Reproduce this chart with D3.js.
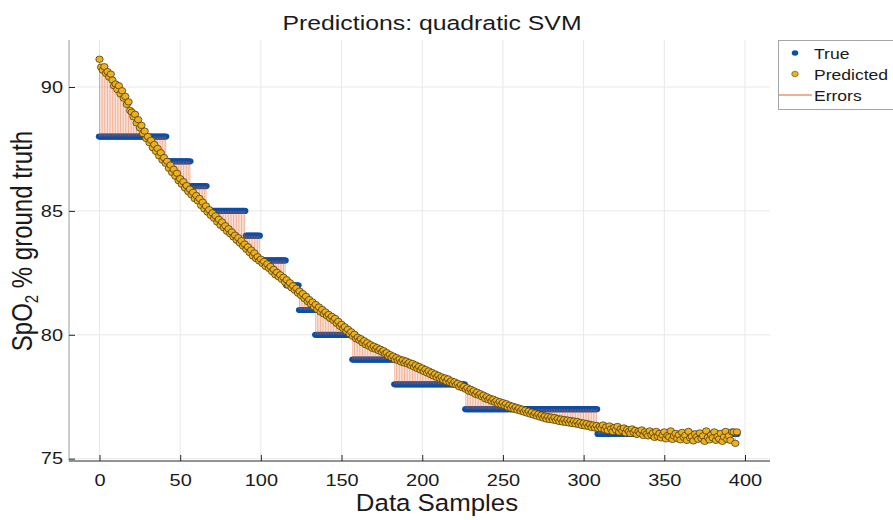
<!DOCTYPE html>
<html><head><meta charset="utf-8">
<script src="https://cdn.jsdelivr.net/npm/d3@7"></script>
<style>
body{margin:0;background:#fff}
svg{display:block}
text{font-family:"Liberation Sans",Arial,Helvetica,sans-serif;fill:#1a1a1a}
</style>
</head><body>
<svg id="chart" width="893" height="520"></svg>
<script>
// ---- data ----
const trueLevels = [88, 87, 86, 85, 84, 83, 82, 81, 80, 79, 78, 77, 76];
const trueRunLengths = [42, 15, 10, 24, 9, 16, 8, 10, 23, 26, 44, 82, 87];
const predicted = [
91.12,90.80,90.68,90.82,90.55,90.62,90.40,90.52,90.28,90.05,
90.12,89.90,90.05,89.72,89.85,89.55,89.62,89.30,89.40,89.05,
88.98,88.80,88.90,88.55,88.68,88.35,88.45,88.12,88.22,87.92,
88.00,87.75,87.85,87.55,87.68,87.40,87.52,87.22,87.35,87.05,
87.15,86.92,87.00,86.72,86.85,86.55,86.68,86.40,86.52,86.22,
86.30,86.08,86.18,85.92,86.02,85.78,85.88,85.65,85.75,85.50,
85.62,85.40,85.50,85.22,85.35,85.08,85.20,84.95,85.05,84.82,
84.92,84.70,84.80,84.55,84.66,84.42,84.55,84.32,84.40,84.18,
84.28,84.08,84.15,83.95,84.02,83.82,83.92,83.70,83.80,83.58,
83.66,83.45,83.55,83.32,83.42,83.18,83.30,83.08,83.15,82.98,
83.05,82.88,82.96,82.76,82.86,82.68,82.76,82.55,82.64,82.42,
82.52,82.34,82.42,82.24,82.32,82.12,82.22,82.00,82.10,81.90,
81.98,81.80,81.88,81.68,81.76,81.58,81.66,81.46,81.55,81.34,
81.42,81.24,81.32,81.12,81.22,81.02,81.12,80.92,81.02,80.84,
80.92,80.76,80.82,80.66,80.74,80.58,80.66,80.46,80.54,80.34,
80.42,80.26,80.32,80.14,80.22,80.04,80.12,79.94,80.02,79.84,
79.90,79.78,79.84,79.68,79.76,79.60,79.68,79.54,79.60,79.46,
79.54,79.42,79.48,79.36,79.42,79.30,79.36,79.24,79.28,79.14,
79.20,79.08,79.14,79.00,79.08,78.96,79.02,78.90,78.98,78.86,
78.94,78.82,78.88,78.76,78.84,78.70,78.78,78.64,78.72,78.58,
78.66,78.52,78.60,78.46,78.54,78.40,78.48,78.34,78.42,78.28,
78.36,78.24,78.30,78.18,78.26,78.12,78.22,78.08,78.14,78.02,
78.10,77.98,78.04,77.90,77.98,77.86,77.92,77.80,77.86,77.72,
77.80,77.68,77.74,77.60,77.68,77.56,77.62,77.50,77.56,77.42,
77.50,77.38,77.44,77.32,77.40,77.28,77.34,77.22,77.30,77.18,
77.26,77.14,77.22,77.08,77.16,77.04,77.12,77.00,77.08,76.96,
77.04,76.92,77.00,76.88,76.96,76.84,76.92,76.80,76.88,76.76,
76.84,76.72,76.80,76.68,76.76,76.64,76.72,76.60,76.70,76.58,
76.68,76.56,76.66,76.54,76.62,76.50,76.60,76.48,76.58,76.46,
76.56,76.44,76.54,76.42,76.52,76.40,76.50,76.38,76.46,76.34,
76.44,76.32,76.42,76.30,76.38,76.26,76.36,76.24,76.34,76.22,
76.30,76.22,76.36,76.18,76.28,76.14,76.32,76.20,76.10,76.26,
76.16,76.30,76.08,76.20,76.12,76.24,76.04,76.18,76.10,76.02,
76.20,76.06,76.14,75.98,76.10,76.02,76.16,75.94,76.08,76.00,
75.92,76.12,75.96,76.04,75.86,76.10,75.90,76.02,75.84,75.96,
76.08,75.80,75.94,75.88,76.12,75.78,75.92,76.02,75.82,75.96,
75.76,76.06,75.86,75.94,75.74,76.10,75.84,75.90,75.72,76.00,
75.88,75.78,76.04,75.82,75.92,75.70,76.12,75.86,75.76,75.96,
75.84,76.08,75.74,75.90,75.80,76.02,75.70,75.88,76.10,75.78,
75.92,75.74,76.08,76.08,75.62,76.08
];
const xTicks = [0, 50, 100, 150, 200, 250, 300, 350, 400];
const yTicks = [75, 80, 85, 90];
const legendLabels = ["True", "Predicted", "Errors"];

// expand true step table into one value per sample
const trueValues = [];
trueLevels.forEach((lv, i) => { for (let k = 0; k < trueRunLengths[i]; k++) trueValues.push(lv); });
const samples = predicted.map((p, i) => ({i, p, t: trueValues[i]}));

// ---- layout ----
const SX = 1.21; // horizontal stretch of the reference rendering
const svg = d3.select("#chart");
const L = 69, R = 770, T = 40, B = 461;
const x = d3.scaleLinear().domain([-18.9, 415.5]).range([L, R]);
const y = d3.scaleLinear().domain([74.907, 91.897]).range([B, T]);

const COL_TRUE = "#0d4ea6", COL_PRED = "#edb120", COL_ERR = "#e0602c", COL_EDGE = "#3a2d0e";

// grid
const g = svg.append("g");
g.selectAll("line.vg").data(xTicks).join("line")
  .attr("x1", d => x(d)).attr("x2", d => x(d)).attr("y1", T).attr("y2", B)
  .attr("stroke", "#e8e8e8").attr("stroke-width", 1);
g.selectAll("line.hg").data(yTicks).join("line")
  .attr("x1", L).attr("x2", R).attr("y1", d => y(d)).attr("y2", d => y(d))
  .attr("stroke", "#e8e8e8").attr("stroke-width", 1);

// true markers
svg.append("g").selectAll("ellipse").data(samples).join("ellipse")
  .attr("cx", d => x(d.i)).attr("cy", d => y(d.t)).attr("rx", 3.7).attr("ry", 3.1)
  .attr("fill", COL_TRUE);

// error lines
svg.append("g").selectAll("line").data(samples).join("line")
  .attr("x1", d => x(d.i)).attr("x2", d => x(d.i))
  .attr("y1", d => y(d.t)).attr("y2", d => y(d.p))
  .attr("stroke", COL_ERR).attr("stroke-width", 0.7).attr("stroke-opacity", 0.7);

// predicted markers
svg.append("g").selectAll("ellipse").data(samples).join("ellipse")
  .attr("cx", d => x(d.i)).attr("cy", d => y(d.p)).attr("rx", 3.7).attr("ry", 3.2)
  .attr("fill", COL_PRED).attr("stroke", COL_EDGE).attr("stroke-width", 0.7);

// axes
const xAxis = d3.axisBottom(x).tickValues(xTicks).tickSize(-6).tickPadding(13);
const xg = svg.append("g").attr("transform", `translate(0,${B})`).call(xAxis);
xg.select(".domain").attr("stroke", "#262626").attr("d", `M${L},0H${R}`);
xg.selectAll(".tick line").attr("stroke", "#262626");
xg.selectAll(".tick text").attr("font-size", 16.5).attr("fill", "#1a1a1a")
  .attr("transform", `scale(${SX},1)`)
  .style("font-family", '"Liberation Sans",Arial,sans-serif');

const yAxis = d3.axisLeft(y).tickValues(yTicks).tickSize(-6).tickPadding(0);
const yg = svg.append("g").attr("transform", `translate(${L},0)`).call(yAxis);
yg.select(".domain").attr("stroke", "#9a9a9a").attr("d", `M0,${T}V${B}`);
yg.selectAll(".tick line").attr("stroke", "#262626");
yg.selectAll(".tick text").attr("font-size", 16.5).attr("fill", "#1a1a1a")
  .attr("x", -6 / SX).attr("transform", `scale(${SX},1)`)
  .style("font-family", '"Liberation Sans",Arial,sans-serif');

// title and labels
svg.append("text").attr("transform", `translate(432,30) scale(${SX},1)`).attr("text-anchor", "middle")
  .attr("font-size", 20.5).text("Predictions: quadratic SVM");
svg.append("text").attr("transform", `translate(437,511) scale(1.1,1)`).attr("text-anchor", "middle")
  .attr("font-size", 23.5).text("Data Samples");
const yl = svg.append("text").attr("transform", `translate(32,241) scale(${SX},1) rotate(-90)`)
  .attr("text-anchor", "middle").attr("font-size", 24);
yl.append("tspan").text("SpO");
yl.append("tspan").attr("font-size", 15).attr("dy", 5).text("2");
yl.append("tspan").attr("dy", -5).text(" % ground truth");

// legend
const lg = svg.append("g");
lg.append("rect").attr("x", 778.5).attr("y", 40.5).attr("width", 116).attr("height", 69)
  .attr("fill", "#fff").attr("stroke", "#a6a6a6").attr("stroke-width", 1);
const ly = [53, 74, 95];
lg.append("ellipse").attr("cx", 795).attr("cy", ly[0]).attr("rx", 3.3).attr("ry", 2.8).attr("fill", COL_TRUE);
lg.append("ellipse").attr("cx", 795).attr("cy", ly[1]).attr("rx", 3.3).attr("ry", 2.8)
  .attr("fill", COL_PRED).attr("stroke", COL_EDGE).attr("stroke-width", 0.5);
lg.append("line").attr("x1", 779).attr("x2", 812).attr("y1", ly[2]).attr("y2", ly[2])
  .attr("stroke", COL_ERR).attr("stroke-width", 1);
lg.selectAll("text").data(legendLabels).join("text")
  .attr("transform", (d, i) => `translate(814,${ly[i] + 5.5}) scale(${SX},1)`)
  .attr("font-size", 14.5).text(d => d);
</script>
</body></html>
